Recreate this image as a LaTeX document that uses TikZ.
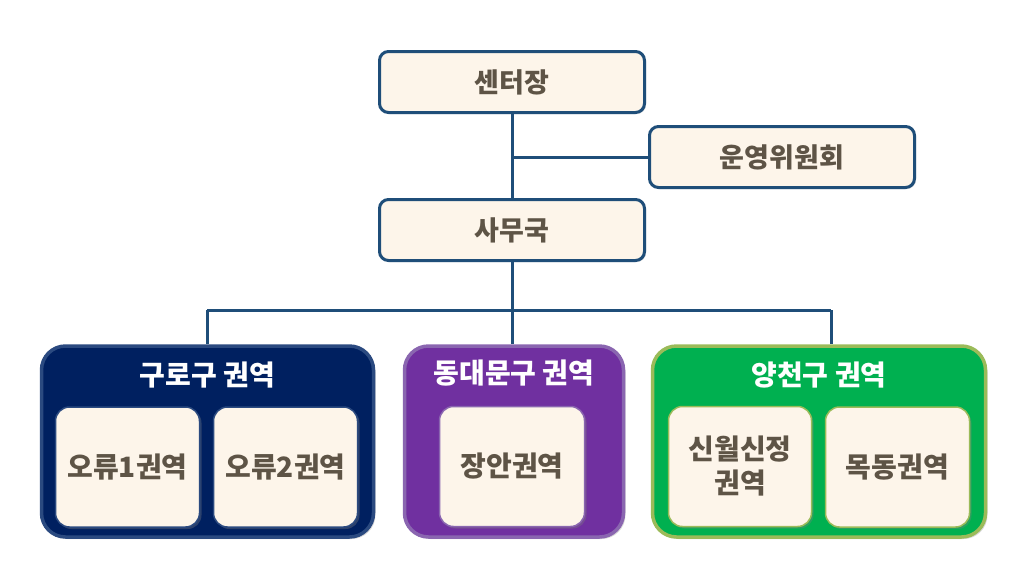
\documentclass[tikz,border=0pt]{standalone}
\usepackage{fontspec}
\newfontfamily\kr{Noto Sans CJK KR}
\usetikzlibrary{shadows}
\definecolor{linec}{HTML}{1F4E79}
\definecolor{boxfill}{HTML}{FDF5EA}
\definecolor{txt}{HTML}{5E5446}
\definecolor{navy}{HTML}{002060}
\definecolor{navyb}{HTML}{2B4A80}
\definecolor{purp}{HTML}{7030A0}
\definecolor{purpb}{HTML}{8A66B0}
\definecolor{grn}{HTML}{00B050}
\definecolor{grnb}{HTML}{9BBB59}
\tikzset{
  topbox/.style={draw=linec, line width=3pt, fill=boxfill, rounded corners=9pt,
    font=\kr\bfseries\fontsize{27}{30}\selectfont, text=txt,
    drop shadow={shadow xshift=1.5pt, shadow yshift=-1.5pt, opacity=0.25}},
  grp/.style={line width=3.5pt, rounded corners=24pt,
    drop shadow={shadow xshift=2pt, shadow yshift=-2pt, opacity=0.3}},
  inbox/.style={line width=1.5pt, fill=boxfill, rounded corners=14pt,
    font=\kr\bfseries\fontsize{28}{34}\selectfont, text=txt, align=center,
    drop shadow={shadow xshift=2pt, shadow yshift=-2pt, opacity=0.35}},
  gtitle/.style={font=\kr\bfseries\fontsize{28}{32}\selectfont, text=white},
  conn/.style={draw=linec, line width=3pt}
}
\begin{document}
\begin{tikzpicture}[x=1pt,y=-1pt]
\useasboundingbox (0,0) rectangle (1024,576);
% top boxes
\node[topbox, minimum width=265pt, minimum height=61pt] (c) at (512,82) {센터장};
\node[topbox, minimum width=265pt, minimum height=61pt] (w) at (782,157) {운영위원회};
\node[topbox, minimum width=265pt, minimum height=61pt] (s) at (512,230) {사무국};
% groups
\node[grp, draw=navyb, fill=navy, minimum width=332pt, minimum height=191pt] (g1) at (207.5,441.5) {};
\node[grp, draw=purpb, fill=purp, minimum width=219pt, minimum height=191pt] (g2) at (514,441.5) {};
\node[grp, draw=grnb, fill=grn, minimum width=333pt, minimum height=191pt] (g3) at (819,441.5) {};
\node[gtitle] (t1) at (207.5,375) {구로구 권역};
\node[gtitle] (t2) at (514,373) {동대문구 권역};
\node[gtitle] (t3) at (819,375) {양천구 권역};
% inner boxes
\node[inbox, draw=navyb, minimum width=144pt, minimum height=120pt] (a1) at (127.5,467) {오류1권역};
\node[inbox, draw=navyb, minimum width=144pt, minimum height=120pt] (a2) at (285.5,467) {오류2권역};
\node[inbox, draw=purpb, minimum width=145pt, minimum height=120pt] (b1) at (512,466.5) {장안권역};
\node[inbox, draw=grnb, minimum width=143pt, minimum height=120pt] (c1) at (740,466.5) {신월신정\\권역};
\node[inbox, draw=grnb, minimum width=144pt, minimum height=120pt] (c2) at (897.5,467) {목동권역};
% connectors
\coordinate (j) at (512,310);
\coordinate (d1) at (207,310);
\coordinate (d3) at (831,310);
\draw[conn] (c.south) -- (s.north);
\draw[conn] (w.west -| c.south) -- (w.west);
\draw[conn] (s.south) -- (j);
\draw[conn] (d1) -- (d3);
\draw[conn] (d1) -- (d1 |- g1.north);
\draw[conn] (j) -- (j |- g2.north);
\draw[conn] (d3) -- (d3 |- g3.north);
\end{tikzpicture}
\end{document}
